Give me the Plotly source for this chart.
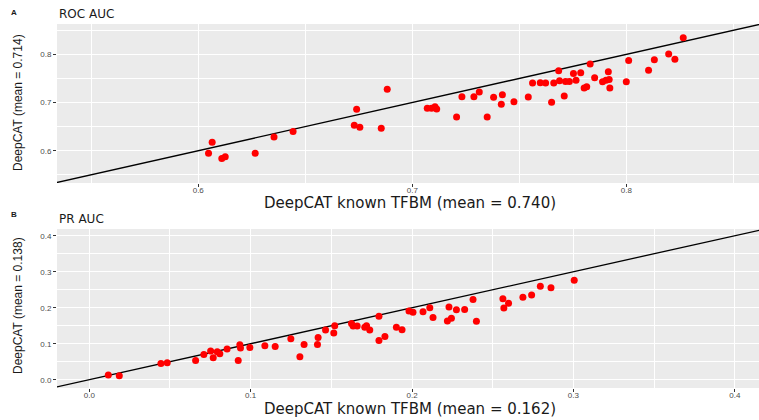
import plotly.graph_objects as go

# ---- ROC AUC per TF: known-TFBM model (x) vs DeepCAT (y) ----
roc_known = [0.6048, 0.6065, 0.6110, 0.6126, 0.6266, 0.6354, 0.6443, 0.6740, 0.6729, 0.6755,
             0.6855, 0.6883, 0.7070, 0.7090, 0.7106, 0.7114, 0.7207, 0.7232, 0.7288, 0.7313,
             0.7350, 0.7380, 0.7416, 0.7421, 0.7475, 0.7542, 0.7562, 0.7598, 0.7623, 0.7651,
             0.7661, 0.7684, 0.7688, 0.7710, 0.7716, 0.7734, 0.7753, 0.7765, 0.7787, 0.7803,
             0.7815, 0.7831, 0.7852, 0.7889, 0.7905, 0.7916, 0.7920, 0.7923, 0.8000, 0.8011,
             0.8104, 0.8131, 0.8198, 0.8227, 0.8266]
roc_deepcat = [0.5946, 0.6174, 0.5840, 0.5876, 0.5946, 0.6284, 0.6400, 0.6859, 0.6527, 0.6485,
               0.6468, 0.7274, 0.6880, 0.6880, 0.6913, 0.6865, 0.6699, 0.7120, 0.7120, 0.7218,
               0.6699, 0.7108, 0.6963, 0.7162, 0.7017, 0.7114, 0.7405, 0.7411, 0.7405, 0.7004,
               0.7405, 0.7660, 0.7452, 0.7135, 0.7438, 0.7438, 0.7604, 0.7465, 0.7618, 0.7301,
               0.7328, 0.7799, 0.7514, 0.7431, 0.7465, 0.7639, 0.7479, 0.7301, 0.7431, 0.7875,
               0.7668, 0.7888, 0.8006, 0.7896, 0.8347]

# ---- PR AUC per TF ----
pr_known = [0.0118, 0.0186, 0.0444, 0.0483, 0.0659, 0.0710, 0.0752, 0.0768, 0.0793, 0.0809,
            0.0854, 0.0923, 0.0933, 0.0937, 0.0995, 0.1088, 0.1152, 0.1249, 0.1305, 0.1331,
            0.1414, 0.1418, 0.1464, 0.1515, 0.1521, 0.1625, 0.1635, 0.1660, 0.1707, 0.1718,
            0.1738, 0.1795, 0.1795, 0.1832, 0.1903, 0.1938, 0.1981, 0.2006, 0.2068, 0.2110,
            0.2130, 0.2219, 0.2229, 0.2244, 0.2275, 0.2326, 0.2378, 0.2399, 0.2563, 0.2569,
            0.2598, 0.2687, 0.2741, 0.2795, 0.2861, 0.3005]
pr_deepcat = [0.013, 0.011, 0.045, 0.047, 0.0535, 0.070, 0.080, 0.061, 0.078, 0.072,
              0.085, 0.0535, 0.097, 0.088, 0.0895, 0.094, 0.092, 0.114, 0.0637, 0.098,
              0.098, 0.117, 0.138, 0.130, 0.150, 0.156, 0.149, 0.149, 0.146, 0.150,
              0.138, 0.176, 0.109, 0.120, 0.146, 0.1385, 0.191, 0.1875, 0.189, 0.200,
              0.1726, 0.1634, 0.202, 0.171, 0.194, 0.195, 0.2225, 0.1625, 0.225, 0.1995,
              0.2125, 0.229, 0.2355, 0.2595, 0.2557, 0.276]

roc_x_title = "DeepCAT known TFBM (mean = 0.740)"
roc_y_title = "DeepCAT (mean = 0.714)"
pr_x_title = "DeepCAT known TFBM (mean = 0.162)"
pr_y_title = "DeepCAT (mean = 0.138)"

# axis extents
ROC_X = [0.534, 0.862]
ROC_Y = [0.533, 0.863]
PR_X = [-0.020, 0.415]
PR_Y = [-0.023, 0.4186]

W, H = 759, 420
FONT = "Liberation Sans, Arial, sans-serif"
WIDE = "DejaVu Sans, Verdana, sans-serif"
RED = "#ff0000"
PANEL = "#ebebeb"

fig = go.Figure()


def add_panel(xs, ys, xr, yr, xa, ya):
    lo = min(xr[0], yr[0]) - 0.05
    hi = max(xr[1], yr[1]) + 0.05
    # y = x reference line
    fig.add_trace(go.Scatter(x=[lo, hi], y=[lo, hi], mode="lines",
                             line=dict(color="black", width=1.3),
                             xaxis=xa, yaxis=ya, hoverinfo="skip", showlegend=False))
    fig.add_trace(go.Scatter(x=xs, y=ys, mode="markers",
                             marker=dict(color=RED, size=7, line=dict(width=0)),
                             xaxis=xa, yaxis=ya, showlegend=False))


add_panel(roc_known, roc_deepcat, ROC_X, ROC_Y, "x", "y")
add_panel(pr_known, pr_deepcat, PR_X, PR_Y, "x2", "y2")

x_dom = [57 / W, 1.0]


def axis_style(rng, dom, anchor, standoff=0):
    return dict(
        domain=dom, range=rng, anchor=anchor,
        dtick=0.1, tick0=0, tickformat=".1f",
        showgrid=True, gridcolor="white", gridwidth=1.4,
        minor=dict(dtick=0.05, tick0=0.05, showgrid=True, gridcolor="white", gridwidth=0.7),
        zeroline=False, showline=False,
        ticks="outside", ticklen=3, tickwidth=1, tickcolor="#333333",
        ticklabelstandoff=standoff,
        tickfont=dict(family=FONT, size=8, color="#4d4d4d"),
        fixedrange=True,
    )


top_dom = [1 - 183 / H, 1 - 24 / H]
bot_dom = [1 - 388 / H, 1 - 229 / H]

fig.update_layout(
    width=W, height=H,
    margin=dict(l=0, r=0, t=0, b=0),
    paper_bgcolor="white", plot_bgcolor=PANEL,
    xaxis=axis_style(ROC_X, x_dom, "y", -4),
    yaxis=axis_style(ROC_Y, top_dom, "x"),
    xaxis2=axis_style(PR_X, x_dom, "y2", -4),
    yaxis2=axis_style(PR_Y, bot_dom, "x2"),
)


def ann(text, px, py, size, rot=0, xanchor="center", bold=False, family=FONT, color="#1a1a1a"):
    fig.add_annotation(text=f"<b>{text}</b>" if bold else text,
                       x=px / W, y=1 - py / H, xref="paper", yref="paper",
                       xanchor=xanchor, yanchor="middle", textangle=rot,
                       showarrow=False, font=dict(family=family, size=size, color=color))


# panel tags and titles
ann("A", 14, 12, 8, bold=True)
ann("ROC AUC", 57, 14, 12, xanchor="left", family=WIDE)
ann("B", 14, 215, 8, bold=True)
ann("PR AUC", 57, 219, 12, xanchor="left", family=WIDE)

# axis titles
ann(roc_x_title, 410, 203, 15, family=WIDE)
ann(roc_y_title, 18, 103, 12, rot=-90)
ann(pr_x_title, 410, 409, 15, family=WIDE)
ann(pr_y_title, 18, 306, 12, rot=-90)

fig.write_html("out.html")
